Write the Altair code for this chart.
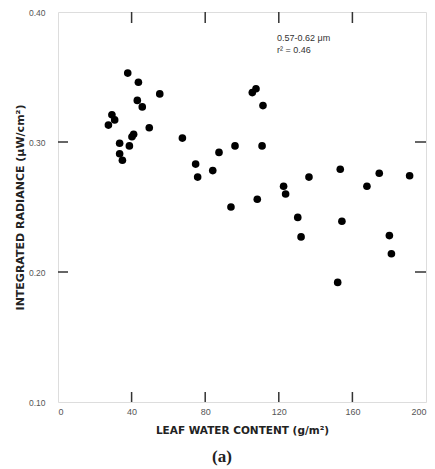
import altair as alt
import pandas as pd

water = [27.4, 29.3, 30.8, 33.5, 33.5, 35.0, 37.9, 38.8, 40.2, 41.1,
         43.7, 43.1, 45.8, 49.6, 55.3, 67.6, 74.8, 75.9, 84.1, 87.5,
         94.0, 96.2, 105.6, 107.6, 111.4, 110.9, 108.3, 122.6, 123.7, 136.4,
         130.3, 132.1, 153.4, 154.3, 167.9, 174.6, 191.1, 180.1, 181.2, 152.0]
radiance = [0.313, 0.321, 0.317, 0.299, 0.291, 0.286, 0.353, 0.297, 0.304, 0.306,
            0.346, 0.332, 0.327, 0.311, 0.337, 0.303, 0.283, 0.273, 0.278, 0.292,
            0.250, 0.297, 0.338, 0.341, 0.328, 0.297, 0.256, 0.266, 0.260, 0.273,
            0.242, 0.227, 0.279, 0.239, 0.266, 0.276, 0.274, 0.228, 0.214, 0.192]
x_ticks = [40, 80, 120, 160]
y_ticks = [0.20, 0.30]
x_labels = [0, 40, 80, 120, 160, 200]
y_labels = [0.10, 0.20, 0.30, 0.40]

W, H = 368, 390
FONT = "Liberation Sans"
TFONT = "DejaVu Sans"

df = pd.DataFrame({"water": water, "radiance": radiance})
xt = pd.DataFrame({"water": x_ticks})
yt = pd.DataFrame({"radiance": y_ticks})

xscale = alt.Scale(domain=[0, 200], nice=False, zero=False)
yscale = alt.Scale(domain=[0.10, 0.40], nice=False, zero=False)

xaxis = alt.Axis(values=x_labels, ticks=False, domain=False, grid=False,
                 labelPadding=5, labelFontSize=9, labelColor="#555",
                 labelFont=FONT, title="LEAF WATER CONTENT (g/m²)",
                 titleFont=TFONT, titleFontSize=10.5, titleFontWeight="bold",
                 titleColor="#222", titlePadding=9)
yaxis = alt.Axis(values=y_labels, format=".2f", ticks=False, domain=False,
                 grid=False, labelPadding=13, labelFontSize=8.5,
                 labelColor="#555", labelFont=FONT,
                 title="INTEGRATED RADIANCE (μW/cm²)", titleFont=TFONT,
                 titleFontSize=11, titleFontWeight="bold",
                 titleColor="#222", titlePadding=3)

X = alt.X("water:Q", scale=xscale, axis=xaxis)
Y = alt.Y("radiance:Q", scale=yscale, axis=yaxis)

points = alt.Chart(df).mark_circle(size=58, color="black", opacity=1).encode(x=X, y=Y)

tick_style = dict(color="#333", strokeWidth=1.5)
xb = alt.Chart(xt).mark_rule(**tick_style).encode(
    x=X, y=alt.value(H), y2=alt.value(H - 10))
xtp = alt.Chart(xt).mark_rule(**tick_style).encode(
    x=X, y=alt.value(0), y2=alt.value(11))
yl = alt.Chart(yt).mark_rule(**tick_style).encode(
    y=Y, x=alt.value(0), x2=alt.value(10))
yr = alt.Chart(yt).mark_rule(**tick_style).encode(
    y=Y, x=alt.value(W), x2=alt.value(W - 11))

ann1 = alt.Chart(pd.DataFrame({"s": ["0.57-0.62 μm"]})).mark_text(
    align="left", baseline="middle", font=FONT, fontSize=9, color="#333"
).encode(text="s:N", x=alt.value(219), y=alt.value(26))
ann2 = alt.Chart(pd.DataFrame({"s": ["r² = 0.46"]})).mark_text(
    align="left", baseline="middle", font=FONT, fontSize=9, color="#333"
).encode(text="s:N", x=alt.value(219), y=alt.value(38))
label_a = alt.Chart(pd.DataFrame({"s": ["(a)"]})).mark_text(
    align="center", baseline="middle", font="Liberation Serif", fontSize=17,
    fontWeight="bold", color="#222"
).encode(text="s:N", x=alt.value(164), y=alt.value(445))

chart = alt.layer(points, xb, xtp, yl, yr, ann1, ann2, label_a).properties(
    width=W, height=H,
    autosize=alt.AutoSizeParams(type="none"),
    padding={"left": 50, "top": 4, "right": 1, "bottom": 66},
).configure_view(stroke="#222", strokeWidth=1.6).configure(background="white")

chart.save("out.html", embed_options={"renderer": "svg", "actions": False})
